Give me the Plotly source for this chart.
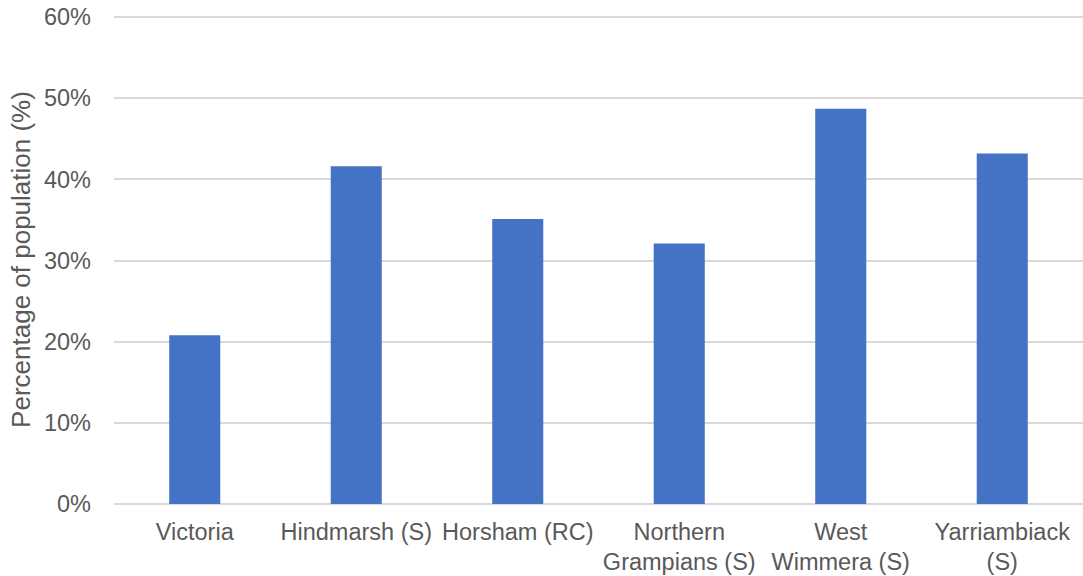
import plotly.graph_objects as go

# Share of population by area
categories = [
    "Victoria",
    "Hindmarsh (S)",
    "Horsham (RC)",
    "Northern<br>Grampians (S)",
    "West<br>Wimmera (S)",
    "Yarriambiack<br>(S)",
]
values = [20.8, 41.6, 35.1, 32.1, 48.7, 43.2]

y_ticks = [0, 10, 20, 30, 40, 50, 60]
y_tick_labels = [f"{t}%" for t in y_ticks]

font_family = "Liberation Sans, Arial, sans-serif"
text_color = "#595959"
grid_color = "#d9d9d9"
bar_color = "#4472c4"
tick_size = 23.5
title_size = 26

fig = go.Figure(
    go.Bar(
        x=categories,
        y=values,
        marker=dict(color=bar_color, line=dict(width=0)),
        hoverinfo="x+y",
    )
)

fig.update_layout(
    width=1083,
    height=576,
    margin=dict(l=114, r=0, t=15, b=72),
    paper_bgcolor="white",
    plot_bgcolor="white",
    bargap=0.684,
    showlegend=False,
    font=dict(family=font_family, size=tick_size, color=text_color),
)

fig.update_xaxes(
    showgrid=False,
    showline=False,
    ticks="",
    tickfont=dict(size=tick_size, color=text_color),
    ticklabelstandoff=11,
)

fig.update_yaxes(
    range=[0, 60.25],
    tickvals=y_ticks,
    ticktext=y_tick_labels,
    showgrid=True,
    gridcolor=grid_color,
    gridwidth=1.5,
    zeroline=True,
    zerolinecolor=grid_color,
    zerolinewidth=1.5,
    showline=False,
    ticks="",
    ticklabelstandoff=22,
    tickfont=dict(size=tick_size, color=text_color),
    title=dict(
        text="Percentage of population (%)",
        font=dict(size=title_size, color=text_color),
        standoff=5,
    ),
)

fig.write_html("out.html")
